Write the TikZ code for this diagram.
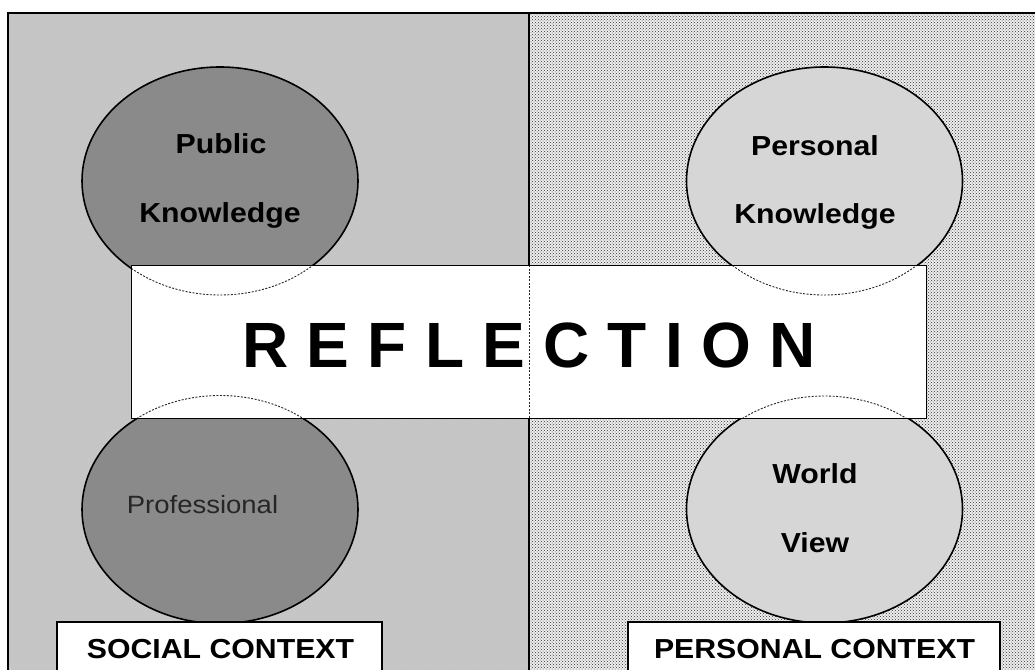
\documentclass[tikz,border=0pt]{standalone}
\usepackage{fontspec}
\setmainfont{Liberation Sans}
\newfontfamily\widesans[FakeStretch=1.1]{Liberation Sans}
\usetikzlibrary{shapes.geometric,patterns}
\definecolor{leftbg}{HTML}{C6C6C6}
\definecolor{rightbg}{HTML}{EEEEEE}
\definecolor{darkell}{HTML}{8A8A8A}
\definecolor{lightell}{HTML}{D6D6D6}
\tikzset{
  frameline/.style={line width=1.6pt, draw=black},
  ellout/.style={ellipse, draw=black, line width=1.6pt, minimum width=276pt, minimum height=228pt, inner sep=0pt},
  darkellipse/.style={ellout, fill=darkell},
  lightellipse/.style={ellout, fill=lightell},
  ghost/.style={line width=0.9pt, dash pattern=on 2pt off 1.5pt, draw=black!85},
  lbl/.style={font=\widesans\bfseries\fontsize{27.5}{30}\selectfont, anchor=base, inner sep=0pt},
  plainlbl/.style={font=\widesans\fontsize{25}{30}\selectfont, anchor=base, inner sep=0pt, text=black!85},
  refbox/.style={draw=black, line width=1.2pt, fill=white, minimum width=794pt, minimum height=152pt, inner sep=0pt},
  reftext/.style={font=\fontsize{64}{70}\selectfont\bfseries\addfontfeature{LetterSpace=28.6}, anchor=base west, inner sep=0pt},
  ctxbox/.style={draw=black, line width=1.4pt, fill=white, minimum height=54pt, inner sep=0pt},
  ctxtext/.style={font=\widesans\bfseries\fontsize{27.5}{30}\selectfont, anchor=base, inner sep=0pt},
}
\begin{document}
\begin{tikzpicture}[x=1pt,y=-1pt]
\useasboundingbox (0,0) rectangle (1035,669);
\clip (0,0) rectangle (1035,669);
\fill[white] (0,0) rectangle (1035,669);
% panels
\fill[leftbg] (8,13) rectangle (529,680);
\fill[pattern=dots, pattern color=black!25] (8,13) rectangle (529,680);
\fill[rightbg] (529,13) rectangle (1040,680);
\fill[pattern=crosshatch dots, pattern color=black!80] (529,13) rectangle (1040,680);
% ellipses
\node[darkellipse] (tl) at (220,181) {};
\node[lightellipse] (tr) at (824.5,181) {};
\node[darkellipse] (bl) at (220,509.5) {};
\node[lightellipse] (br) at (824.5,509) {};
% frame
\coordinate (fbl) at (8,680);
\coordinate (ftl) at (8,13);
\coordinate (ftr) at (1040,13);
\coordinate (dtop) at (529,13);
\coordinate (dbot) at (529,680);
\draw[frameline] (fbl) -- (ftl) -- (ftr);
\draw[line width=1.4pt] (dtop) -- (dbot);
% reflection box
\node[refbox] (refl) at (529,342) {};
\begin{scope}
  \clip (refl.south west) rectangle (refl.north east);
  \fill[white] (refl.south west) rectangle (refl.north east);
  \draw[ghost] (tl.center) ellipse [x radius=138, y radius=114];
  \draw[ghost] (tr.center) ellipse [x radius=137, y radius=114];
  \draw[ghost] (bl.center) ellipse [x radius=138, y radius=114];
  \draw[ghost] (br.center) ellipse [x radius=137, y radius=113];
  \draw[ghost] (refl.north -| dtop) -- (refl.south -| dtop);
\end{scope}
\draw[line width=1.2pt] (refl.south west) rectangle (refl.north east);
\node[reftext] (refword) at (242,367) {REFLECTION};
% ellipse labels
\node[lbl] (pub) at (221,153) {Public};
\node[lbl] (pubk) at (220,222) {Knowledge};
\node[lbl] (pers) at (815,155) {Personal};
\node[lbl] (persk) at (815,223) {Knowledge};
\node[plainlbl] (prof) at (202.5,513) {Professional};
\node[lbl] (world) at (815,483) {World};
\node[lbl] (view) at (815,552) {View};
% context boxes
\node[ctxbox, minimum width=325pt] (soc) at (219.5,649) {};
\node[ctxbox, minimum width=372pt] (pcx) at (814,649) {};
\node[ctxtext] (soct) at (220.5,658) {SOCIAL CONTEXT};
\node[ctxtext] (pcxt) at (814.5,658) {PERSONAL CONTEXT};
\end{tikzpicture}
\end{document}
